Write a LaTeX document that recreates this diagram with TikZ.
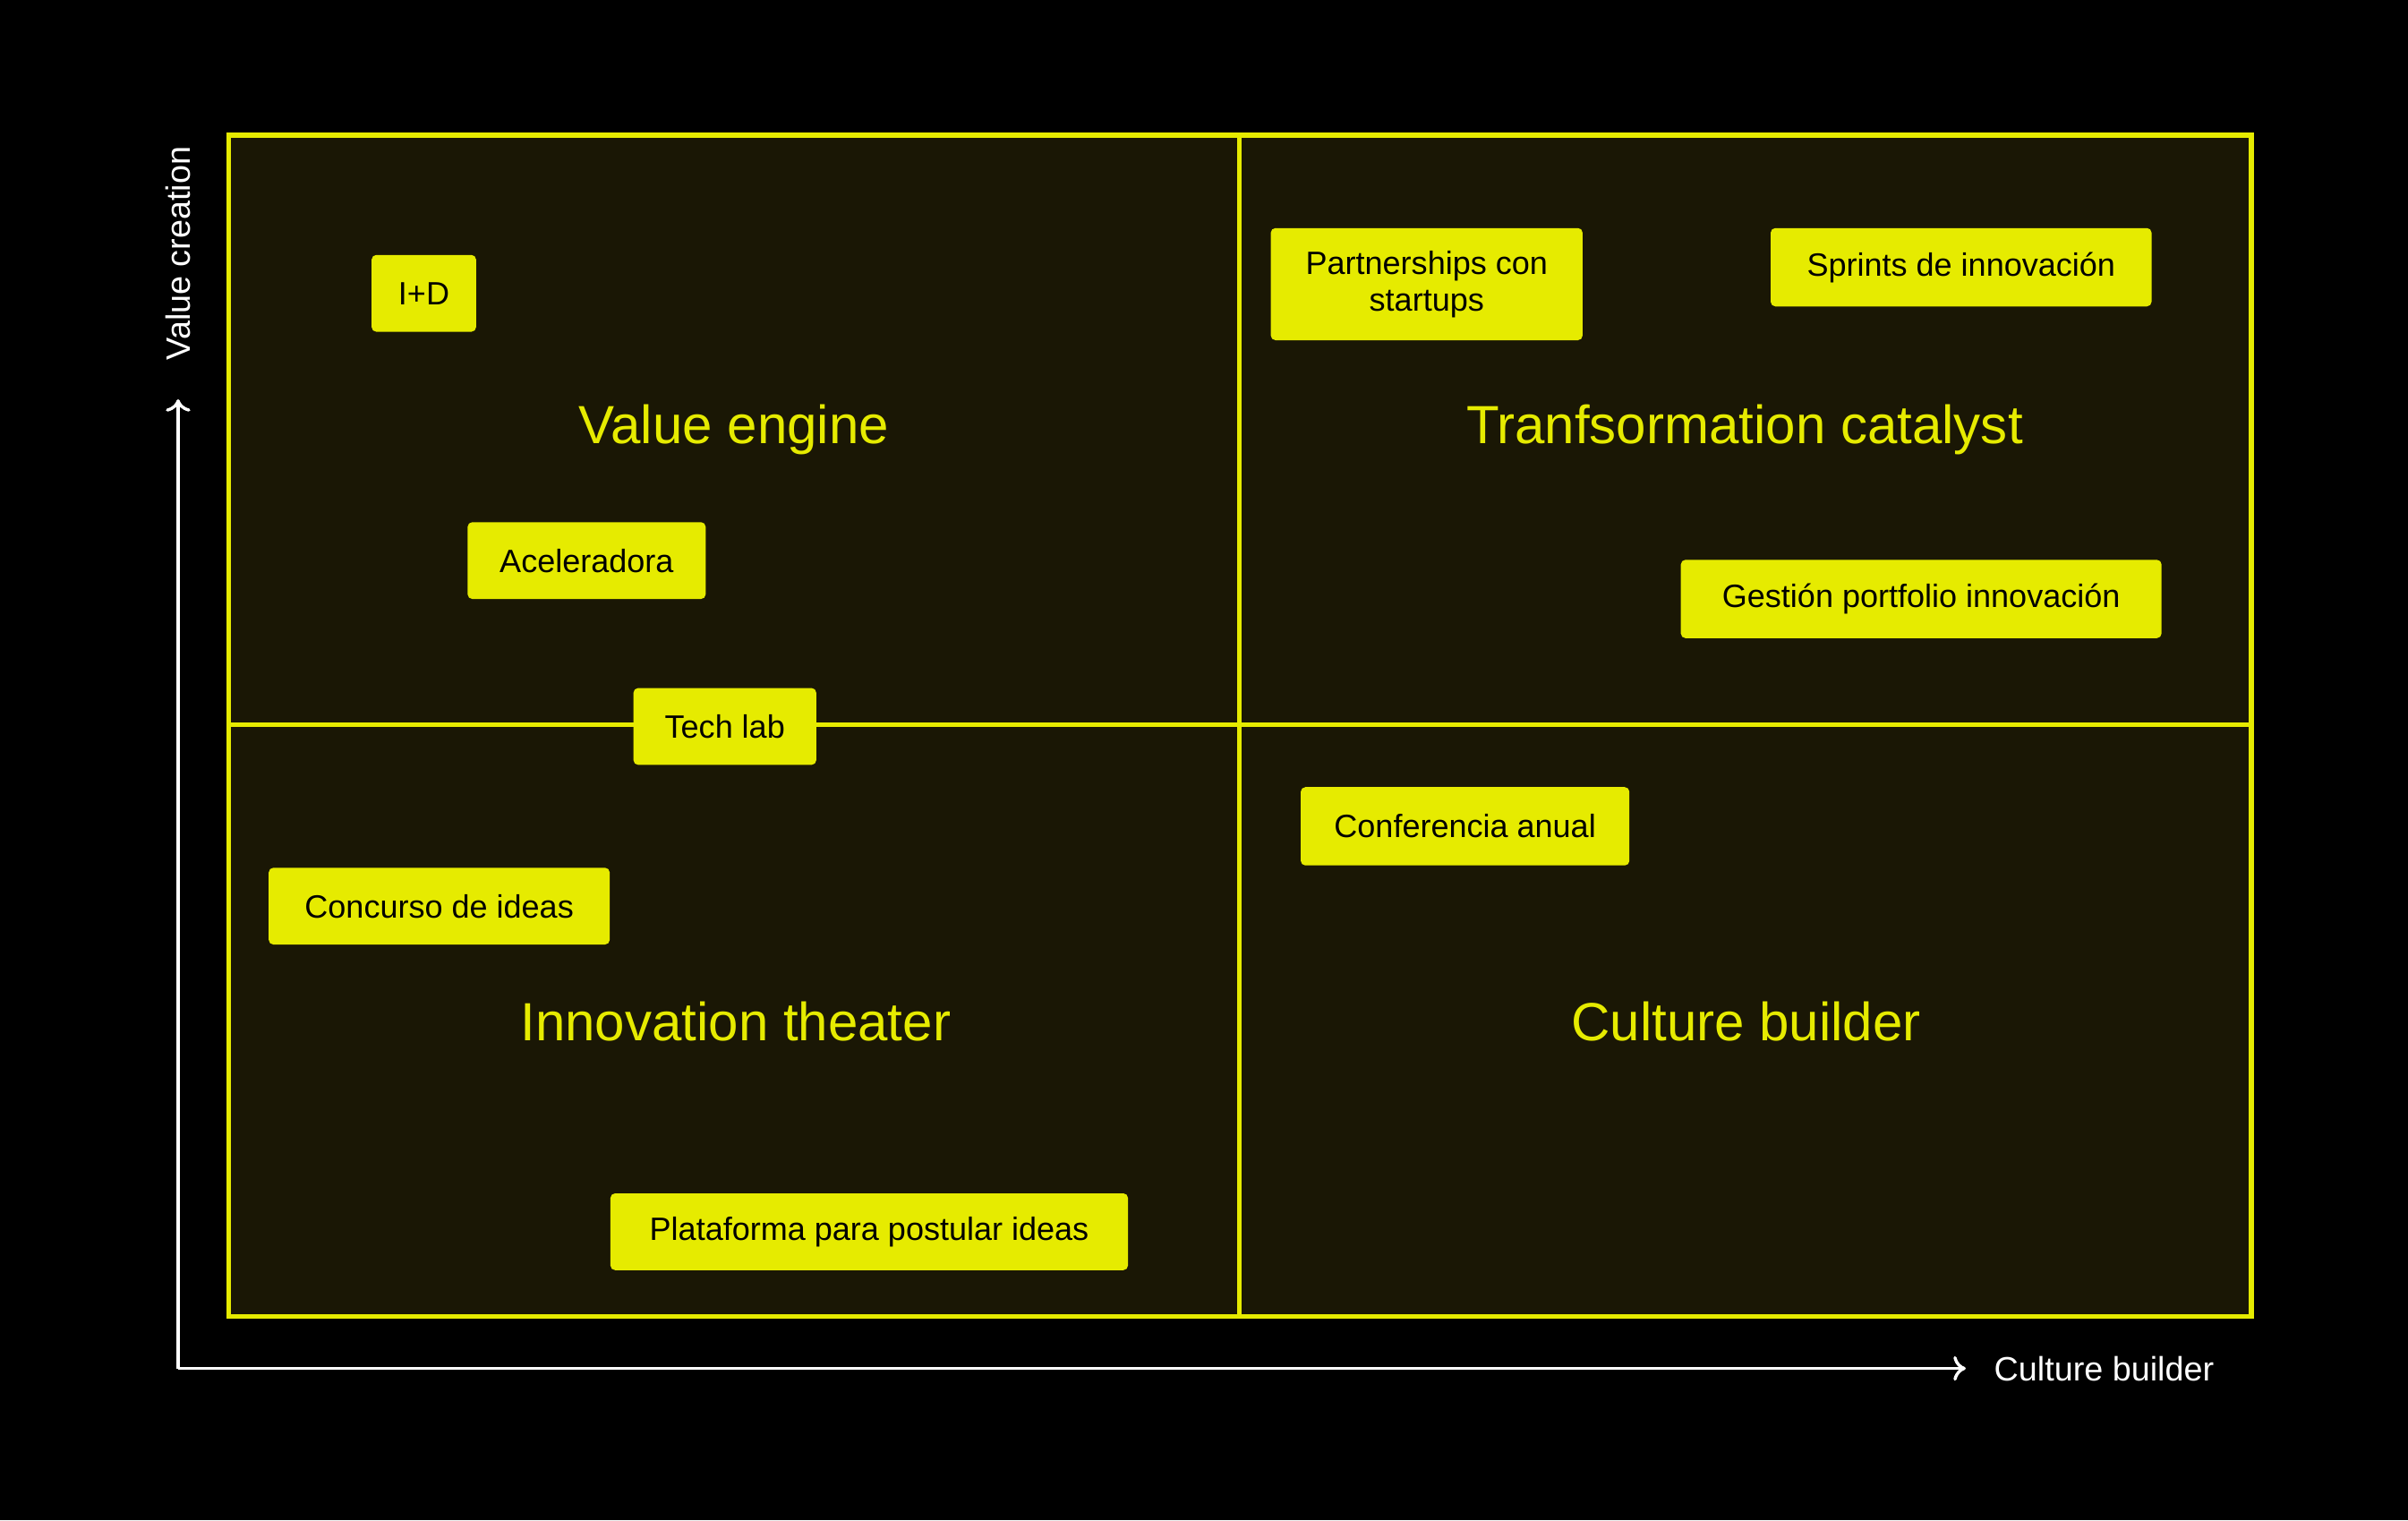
\documentclass[tikz,border=0pt]{standalone}
\usepackage{fontspec}
\setmainfont{Liberation Sans}
\usetikzlibrary{arrows.meta}
\definecolor{ylw}{HTML}{E6EB00}
\definecolor{dk}{HTML}{1A1705}
\begin{document}
\begin{tikzpicture}[x=1pt,y=-1pt,
  tag/.style={fill=ylw,rounded corners=3pt,text=black,font=\fontsize{21}{24}\selectfont,inner sep=0pt,align=center},
  ttl/.style={text=ylw,font=\fontsize{35}{40}\selectfont},
  ax/.style={white,line width=2pt,-{To[length=8pt,width=16pt]}}]
\fill[black] (0,0) rectangle (1568,990);
\useasboundingbox (0,0) rectangle (1568,990);
\fill[dk] (149,88) rectangle (1466,857);
\draw[ylw,line width=3pt] (149,88) rectangle (1466,857) (807,88)--(807,857) (149,472)--(1466,472);
\coordinate (o) at (116,891);
\coordinate (yt) at (116,260);
\coordinate (xt) at (1280,891);
\draw[ax] (o)--(yt);
\draw[ax] (o)--(xt);
\node[white,rotate=90,font=\fontsize{22}{26}\selectfont] (yl) at (116,165) {Value creation};
\node[white,anchor=west,font=\fontsize{22}{26}\selectfont] (xl) at (1295,891) {Culture builder};
\node[ttl] (t1) at (478,280) {Value engine};
\node[ttl] (t2) at (1136,280) {Tranfsormation catalyst};
\node[ttl] (t3) at (479,665) {Innovation theater};
\node[ttl] (t4) at (1137,665) {Culture builder};
\node[tag,minimum width=68,minimum height=50] (a) at (276,191) {I+D};
\node[tag,minimum width=155,minimum height=50] (b) at (382,365) {Aceleradora};
\node[tag,minimum width=119,minimum height=50] (c) at (472,473) {Tech lab};
\node[tag,minimum width=222,minimum height=50] (d) at (286,590) {Concurso de ideas};
\node[tag,minimum width=337,minimum height=50] (e) at (566,802) {Plataforma para postular ideas};
\node[tag,minimum width=203,minimum height=73] (f) at (929,185) {Partnerships con\\startups};
\node[tag,minimum width=248,minimum height=51] (g) at (1277,174) {Sprints de innovación};
\node[tag,minimum width=313,minimum height=51] (h) at (1251,390) {Gestión portfolio innovación};
\node[tag,minimum width=214,minimum height=51] (i) at (954,538) {Conferencia anual};
\end{tikzpicture}
\end{document}
